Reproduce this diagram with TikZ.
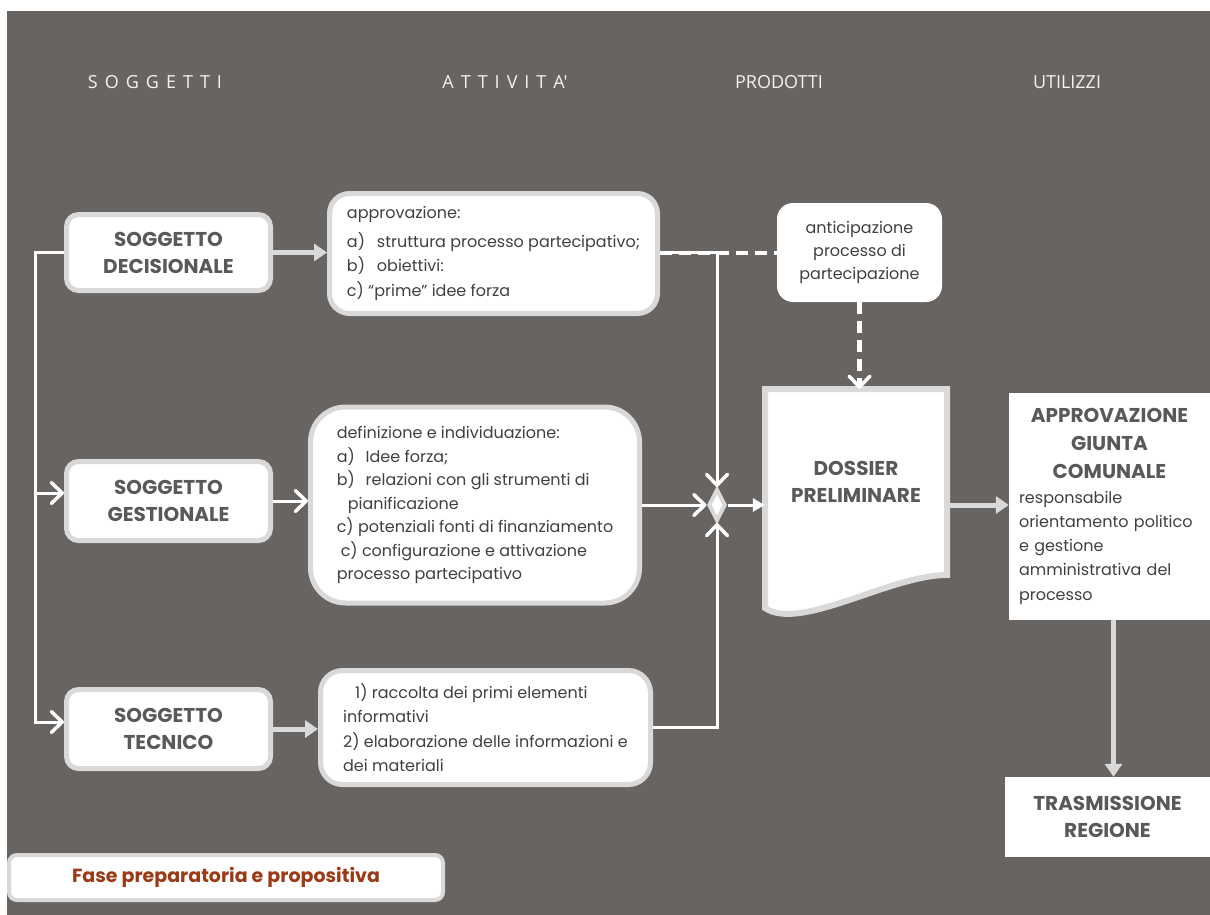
\documentclass[tikz,border=0pt]{standalone}
\usepackage{fontspec}
\setmainfont{Poppins}
\newfontfamily\hdfont{Open Sans}
\usetikzlibrary{arrows.meta,shapes.geometric}
\definecolor{bgc}{HTML}{686462}
\definecolor{rim}{HTML}{D9D9D9}
\definecolor{ink}{HTML}{404040}
\definecolor{ttl}{HTML}{595959}
\definecolor{phase}{HTML}{9A3A16}
\definecolor{hdc}{HTML}{F2F2F2}
\tikzset{
  hd/.style={text=hdc, font=\hdfont\fontsize{18}{22}\selectfont, inner sep=0pt},
  ttlfont/.style={font=\bfseries\fontsize{20}{27}\selectfont},
  subj/.style={draw=rim, line width=5pt, fill=white, rounded corners=12pt,
    minimum width=204pt, inner sep=0pt, align=center, text=ttl, ttlfont},
  act/.style={draw=rim, line width=5pt, fill=white, inner sep=0pt, align=left,
    text=ink, font=\fontsize{16}{24.5}\selectfont},
  plain/.style={fill=white, inner sep=0pt},
  garrow/.style={draw=rim, line width=5pt, -{Triangle[length=13pt,width=17pt]}},
  wline/.style={draw=white, line width=3pt},
  chev/.style={-{Straight Barb[length=11pt,width=21pt,line width=3.5pt,round]}},
  dashl/.style={draw=white, line width=4pt, dash pattern=on 12pt off 7pt},
}
\begin{document}
\begin{tikzpicture}[x=1pt,y=-1pt]
  % page and panel
  \fill[white] (0,0) rectangle (1210,915);
  \fill[bgc] (7,11) rectangle (1210,915);

  % column headings
  \node[hd] (h1) at (155,82) {{\spaceskip=7pt S O G G E T T I}};
  \node[hd] (h2) at (505,82) {{\spaceskip=7pt A T T I V I T A'}};
  \node[hd] (h3) at (779,82) {PRODOTTI};
  \node[hd] (h4) at (1067,82) {UTILIZZI};

  % document outline of the dossier
  \draw[rim, line width=6pt, fill=white, line join=miter]
    (765,389) -- (947,389) -- (947,575)
    .. controls (890,575) and (800,632) .. (765,608) -- cycle;

  % subjects
  \node[subj, minimum height=76pt] (sd) at (168.5,252.5) {SOGGETTO\\DECISIONALE};
  \node[subj, minimum height=79pt] (sg) at (168.5,501) {SOGGETTO\\GESTIONALE};
  \node[subj, minimum height=79pt] (st) at (168.5,729) {SOGGETTO\\TECNICO};

  % activities
  \node[act, rounded corners=20pt, minimum width=328pt, minimum height=120pt] (a1)
    at (493.5,253.5)
    {approvazione:\\[4pt]
     \makebox[30pt][l]{a)}struttura processo partecipativo;\\
     \makebox[30pt][l]{b)}obiettivi:\\
     c) “prime” idee forza};
  \node[act, rounded corners=35pt, minimum width=329pt, minimum height=196pt,
        font=\fontsize{16}{23.5}\selectfont] (a2) at (475,505)
    {definizione e individuazione:\\
     \makebox[29pt][l]{a)}Idee forza;\\
     \makebox[29pt][l]{b)}relazioni con gli strumenti di\\
     \hspace*{11pt}pianificazione\\
     c) potenziali fonti di finanziamento\\
     \hspace*{4pt}c) configurazione e attivazione\\
     processo partecipativo};
  \node[act, rounded corners=22pt, minimum width=330pt, minimum height=114pt] (a3)
    at (485.5,727.5)
    {\hspace*{12pt}1) raccolta dei primi elementi\\
     informativi\\
     2) elaborazione delle informazioni e\\
     dei materiali};

  % products
  \node[plain, rounded corners=16pt, minimum width=165pt, minimum height=99pt,
        align=center, text=ink, font=\fontsize{16}{23}\selectfont] (ant)
    at (859.5,252.5) {anticipazione\\processo di\\partecipazione};
  \node[inner sep=0pt, minimum width=182pt, minimum height=186pt, align=center,
        text=ttl, ttlfont] (dos) at (856,482) {DOSSIER\\PRELIMINARE};
  \node[diamond, draw=rim, fill=white, line width=4pt, minimum width=17pt,
        minimum height=32pt, inner sep=0pt] (dia) at (717,505) {};

  % uses
  \node[plain, minimum width=201pt, minimum height=227pt, text width=181pt,
        text=ink, font=\fontsize{16}{24.3}\selectfont] (app) at (1109.5,506.5)
    {\parindent=0pt{\centering\color{ttl}\bfseries\fontsize{20}{28}\selectfont
      APPROVAZIONE\\GIUNTA\\COMUNALE\par}%
     responsabile\\orientamento politico\\e gestione\\amministrativa del\\processo};
  \node[plain, minimum width=205pt, minimum height=80pt, align=center,
        text=ttl, ttlfont] (tra) at (1107.5,817) {TRASMISSIONE\\REGIONE};

  % phase label
  \node[draw=rim, line width=4pt, fill=white, rounded corners=8pt,
        minimum width=434pt, minimum height=45pt, inner sep=0pt, text=phase,
        font=\bfseries\fontsize{19}{22}\selectfont] (fase) at (226,877.5)
    {Fase preparatoria e propositiva};

  % distribution line on the left
  \coordinate (lx) at ([xshift=-29pt]sd.west);
  \coordinate (gin) at ([yshift=8pt]sg.west);
  \coordinate (tin) at ([yshift=7pt]st.west);
  \draw[wline, chev, line join=miter] (sd.west) -- (lx) |- (tin);
  \draw[wline, chev] (gin -| lx) -- (gin);

  % subjects to activities
  \draw[garrow] (sd.east) -- (sd.east -| a1.west);
  \draw[wline, chev] (sg.east) -- (sg.east -| a2.west);
  \draw[garrow] (st.east) -- (st.east -| a3.west);

  % convergence on the merge diamond
  \coordinate (jn) at (sd.east -| dia.north);
  \draw[dashl] (sd.east -| a1.east) -- (sd.east -| ant.west);
  \draw[wline, chev, line join=miter] (sd.east -| a1.east) -- (jn) -- (dia.north);
  \draw[wline, chev] (a2.east) -- (dia.west);
  \draw[wline, chev, line join=miter] (a3.east) -- (a3.east -| dia.south) -- (dia.south);
  \draw[draw=white, line width=5pt, dash pattern=on 12pt off 7pt,
        -{Straight Barb[length=11pt,width=21pt,line width=3.5pt,round]}]
    (ant.south) -- (ant.south |- dos.north);
  \draw[wline, -{Triangle[length=12pt,width=13pt]}] (dia.east) -- (dia.east -| dos.west);

  % products to uses
  \draw[garrow] (dia.east -| dos.east) -- (dia.east -| app.west);
  \draw[garrow] ([xshift=4pt]app.south) -- ([xshift=4pt]app.south |- tra.north);
\end{tikzpicture}
\end{document}
